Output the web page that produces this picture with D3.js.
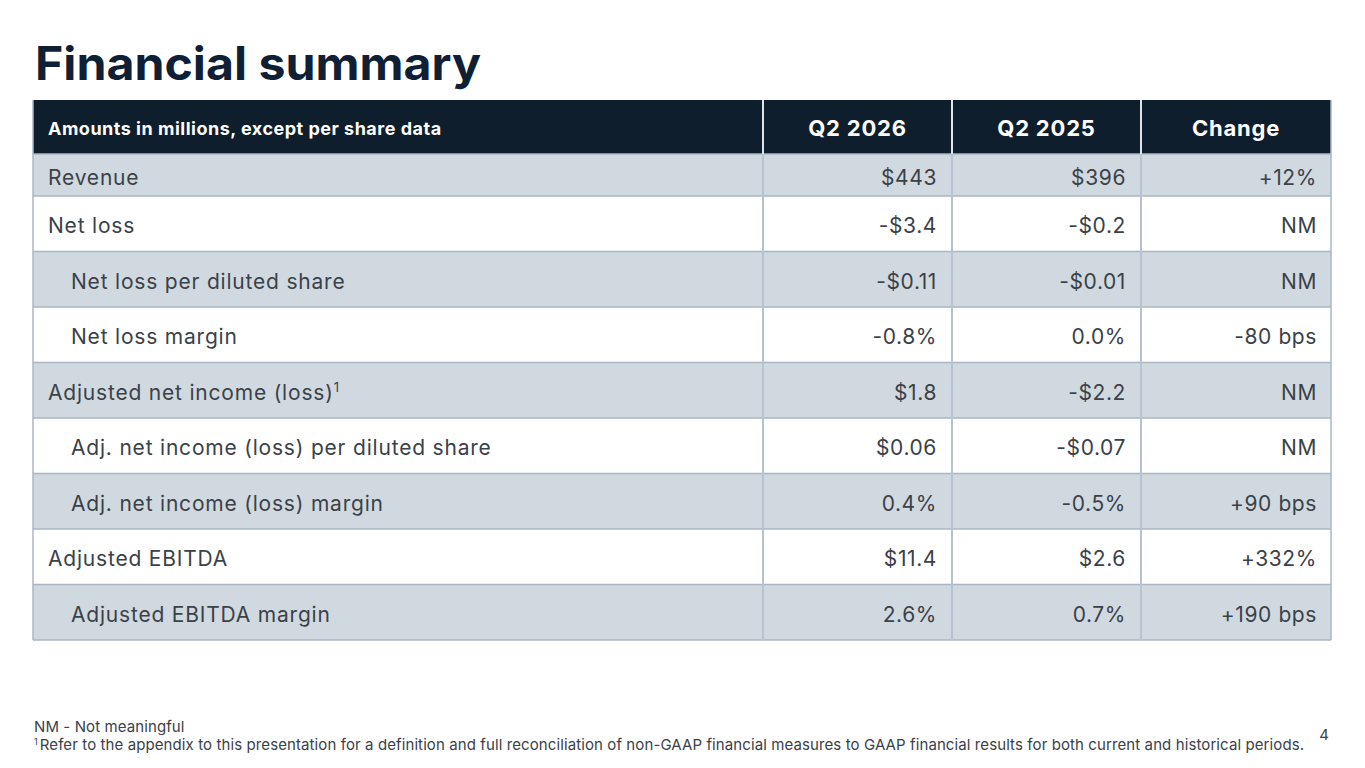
<!DOCTYPE html>
<html>
<head>
<meta charset="utf-8">
<script src="https://cdn.jsdelivr.net/npm/d3@7"></script>
<style>
  body { margin: 0; background: #fff; }
  svg { display: block; }
</style>
</head>
<body>
<svg id="chart" width="1365" height="768"></svg>
<script>
// table content
const headers = ["Amounts in millions, except per share data", "Q2 2026", "Q2 2025", "Change"];
const labels = [
  "Revenue",
  "Net loss",
  "Net loss per diluted share",
  "Net loss margin",
  "Adjusted net income (loss)",
  "Adj. net income (loss) per diluted share",
  "Adj. net income (loss) margin",
  "Adjusted EBITDA",
  "Adjusted EBITDA margin"
];
const indented = [false, false, true, true, false, true, true, false, true];
const footnoted = [false, false, false, false, true, false, false, false, false];
const q2026 = ["$443", "-$3.4", "-$0.11", "-0.8%", "$1.8", "$0.06", "0.4%", "$11.4", "2.6%"];
const q2025 = ["$396", "-$0.2", "-$0.01", "0.0%", "-$2.2", "-$0.07", "-0.5%", "$2.6", "0.7%"];
const change = ["+12%", "NM", "NM", "-80 bps", "NM", "NM", "+90 bps", "+332%", "+190 bps"];

const svg = d3.select("#chart");
const font = "Inter, 'Noto Sans', sans-serif";
const textCol = "#3b4148";
const stripe = "#d1d9e0";
const line = "#a9b7c5";

// title
svg.append("text")
  .attr("x", 35).attr("y", 80)
  .attr("font-family", "Inter, sans-serif")
  .attr("font-weight", 700)
  .attr("font-size", 46)
  .attr("fill", "#0f1f36")
  .attr("textLength", 446)
  .attr("lengthAdjust", "spacingAndGlyphs")
  .text("Financial summary");

// column edges
const colEdges = [33, 763, 952, 1141, 1331];
const headTop = 100, headBot = 154, firstBot = 196, tableBot = 640;

const rowY = d3.scaleBand()
  .domain(d3.range(1, labels.length))
  .range([firstBot, tableBot]);
const rowTop = i => i === 0 ? headBot : rowY(i);
const rowH = i => i === 0 ? firstBot - headBot : rowY.bandwidth();

// row backgrounds
svg.selectAll("rect.row")
  .data(labels)
  .join("rect")
  .attr("class", "row")
  .attr("x", colEdges[0]).attr("width", colEdges[4] - colEdges[0])
  .attr("y", (d, i) => rowTop(i)).attr("height", (d, i) => rowH(i))
  .attr("fill", (d, i) => i % 2 === 0 ? stripe : "#ffffff");

// header
svg.append("rect")
  .attr("x", colEdges[0]).attr("y", headTop)
  .attr("width", colEdges[4] - colEdges[0]).attr("height", headBot - headTop)
  .attr("fill", "#0f1e2c");

// horizontal lines
svg.selectAll("line.h")
  .data(d3.range(1, labels.length).map(rowTop).concat([headBot, tableBot]))
  .join("line")
  .attr("class", "h")
  .attr("x1", colEdges[0]).attr("x2", colEdges[4])
  .attr("y1", d => d).attr("y2", d => d)
  .attr("stroke", line).attr("stroke-width", 1.5);

// vertical lines
svg.selectAll("line.v")
  .data(colEdges)
  .join("line")
  .attr("class", "v")
  .attr("x1", d => d).attr("x2", d => d)
  .attr("y1", headTop)
  .attr("y2", tableBot)
  .attr("stroke", (d, i) => (i === 0 || i === 4) ? line : "#b7c3cf")
  .attr("stroke-width", (d, i) => (i === 0 || i === 4) ? 1.5 : 2);

// light separators in the header
svg.selectAll("line.vh")
  .data(colEdges.slice(1, 4))
  .join("line")
  .attr("class", "vh")
  .attr("x1", d => d).attr("x2", d => d)
  .attr("y1", headTop).attr("y2", headBot)
  .attr("stroke", "#dfe5ea").attr("stroke-width", 2);

// header text
svg.append("text")
  .attr("x", 48).attr("y", headTop + 35)
  .attr("font-family", font).attr("font-weight", 700).attr("font-size", 18)
  .attr("letter-spacing", 0.5)
  .attr("fill", "#ffffff")
  .text(headers[0]);
svg.selectAll("text.hd")
  .data(headers.slice(1))
  .join("text")
  .attr("class", "hd")
  .attr("x", (d, i) => (colEdges[i + 1] + colEdges[i + 2]) / 2)
  .attr("y", headTop + 36)
  .attr("text-anchor", "middle")
  .attr("font-family", font).attr("font-weight", 700).attr("font-size", 22)
  .attr("letter-spacing", 0.8)
  .attr("fill", "#ffffff")
  .text(d => d);

// label text
const lab = svg.selectAll("text.lab")
  .data(labels)
  .join("text")
  .attr("class", "lab")
  .attr("x", (d, i) => indented[i] ? 71 : 48)
  .attr("y", (d, i) => rowTop(i) + rowH(i) / 2 + 9.5)
  .attr("font-family", font).attr("font-size", 21)
  .attr("letter-spacing", 0.8)
  .attr("fill", textCol)
  .text(d => d);
lab.filter((d, i) => footnoted[i])
  .append("tspan")
  .attr("font-size", 13).attr("dy", -8)
  .text("1");

// value columns
[q2026, q2025, change].forEach((vals, c) => {
  svg.selectAll("text.val" + c)
    .data(vals)
    .join("text")
    .attr("class", "val" + c)
    .attr("x", colEdges[c + 2] - (c === 2 ? 14 : 15))
    .attr("y", (d, i) => rowTop(i) + rowH(i) / 2 + 9.5)
    .attr("text-anchor", "end")
    .attr("font-family", font).attr("font-size", 21)
    .attr("letter-spacing", 0.6)
    .attr("fill", textCol)
    .text(d => d);
});

// footnotes
svg.append("text")
  .attr("x", 34).attr("y", 732)
  .attr("font-family", font).attr("font-size", 15)
  .attr("letter-spacing", 0.1)
  .attr("fill", textCol)
  .text("NM - Not meaningful");
const fn = svg.append("text")
  .attr("x", 34).attr("y", 750)
  .attr("font-family", font).attr("font-size", 15)
  .attr("letter-spacing", 0.1)
  .attr("fill", textCol);
fn.append("tspan").attr("font-size", 9).attr("dy", -5).text("1");
fn.append("tspan").attr("dy", 5).attr("dx", 2)
  .text("Refer to the appendix to this presentation for a definition and full reconciliation of non-GAAP financial measures to GAAP financial results for both current and historical periods.");

svg.append("text")
  .attr("x", 1329).attr("y", 740)
  .attr("text-anchor", "end")
  .attr("font-family", font).attr("font-size", 15)
  .attr("fill", textCol)
  .text("4");
</script>
</body>
</html>
